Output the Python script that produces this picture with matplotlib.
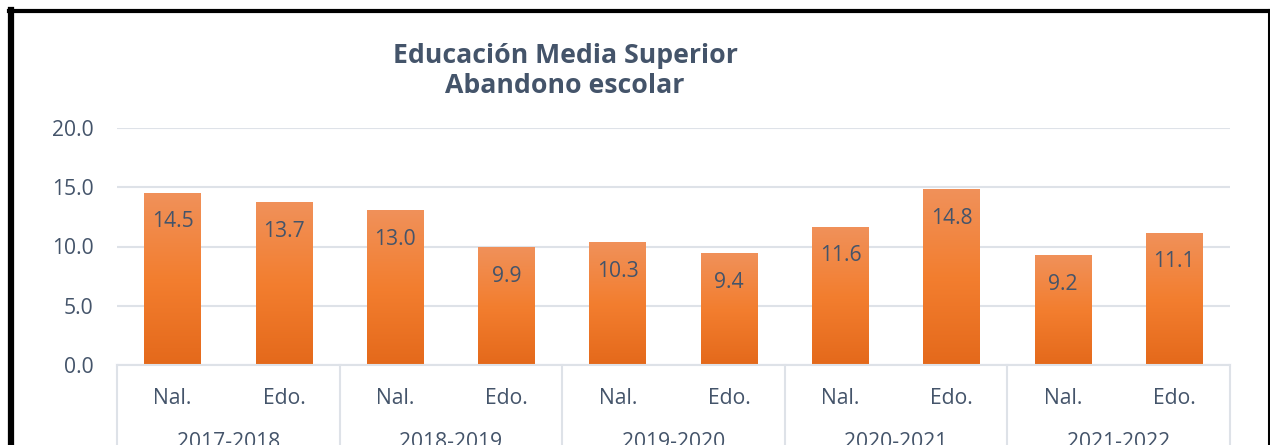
import numpy as np
import matplotlib.pyplot as plt
from matplotlib.lines import Line2D

years = ["2017-2018", "2018-2019", "2019-2020", "2020-2021", "2021-2022"]
subcats = ["Nal.", "Edo."]
values = [14.5, 13.7, 13.0, 9.9, 10.3, 9.4, 11.6, 14.8, 9.2, 11.1]

txt = "#44546A"
grid = "#DEE2E8"
plt.rcParams['font.family'] = ['Open Sans', 'DejaVu Sans']

fig = plt.figure(figsize=(12.7, 4.45), dpi=100)
ax = fig.add_axes([117 / 1270, 1 - 365 / 445, (1230 - 117) / 1270, (365 - 128) / 445])

n = len(values)
x = np.arange(n)
bars = ax.bar(x, values, width=0.51, color="none", zorder=2)

# vertical orange gradient per bar (light top -> dark bottom)
cmap = plt.matplotlib.colors.LinearSegmentedColormap.from_list(
    "og", ["#E4691B", "#F37E2F", "#F0915A"])
grad = np.linspace(0, 1, 256).reshape(-1, 1)
for b in bars:
    x0, w, h = b.get_x(), b.get_width(), b.get_height()
    ax.imshow(grad, cmap=cmap, origin="lower", aspect="auto",
              extent=[x0, x0 + w, 0, h], zorder=2)
    ax.text(x0 + w / 2, h - 2.4, f"{h:.1f}", ha="center", va="center",
            fontsize=15.2, color=txt, zorder=3)

ax.set_xlim(-0.5, n - 0.5)
ax.set_ylim(0, 20)
ax.set_yticks([0, 5, 10, 15, 20])
ax.set_yticklabels([f"{v:.1f}" for v in [0, 5, 10, 15, 20]])
ax.yaxis.grid(True, color=grid, linewidth=1.5, zorder=0)
ax.set_axisbelow(True)
for s in ax.spines.values():
    s.set_visible(False)
ax.tick_params(axis="y", length=0, labelsize=15.2, labelcolor=txt, pad=17)
ax.set_xticks([])

# multi-level category axis
ax.add_line(Line2D([-0.5, n - 0.5], [0, 0], color=grid, lw=1.5, clip_on=False))
trans = ax.get_xaxis_transform()
for i in range(len(years) + 1):
    ax.add_line(Line2D([i * 2 - 0.5] * 2, [0, -0.5], transform=trans,
                       color=grid, lw=1.5, clip_on=False))
for i in range(n):
    ax.text(i, -0.165, subcats[i % 2], transform=trans, ha="center",
            va="baseline", fontsize=15.2, color=txt)
for i, yr in enumerate(years):
    ax.text(i * 2 + 0.5, -0.352, yr, transform=trans, ha="center",
            va="baseline", fontsize=15.2, color=txt)

fig.text(565 / 1270, 1 - 63 / 445, "Educación Media Superior", ha="center",
         va="baseline", fontsize=19.2, fontweight="bold", color=txt)
fig.text(565 / 1270, 1 - 93 / 445, "Abandono escolar", ha="center",
         va="baseline", fontsize=19.2, fontweight="bold", color=txt)

# black frame (cut at the bottom)
fig.add_artist(Line2D([11 / 1270] * 2, [0, 1 - 10 / 445], color="black", lw=4.5))
fig.add_artist(Line2D([9 / 1270, 1], [1 - 11 / 445] * 2, color="black", lw=3))
fig.add_artist(Line2D([1268.5 / 1270] * 2, [0, 1 - 10 / 445], color="black", lw=2.2))

fig.savefig("out.png", dpi=100)
